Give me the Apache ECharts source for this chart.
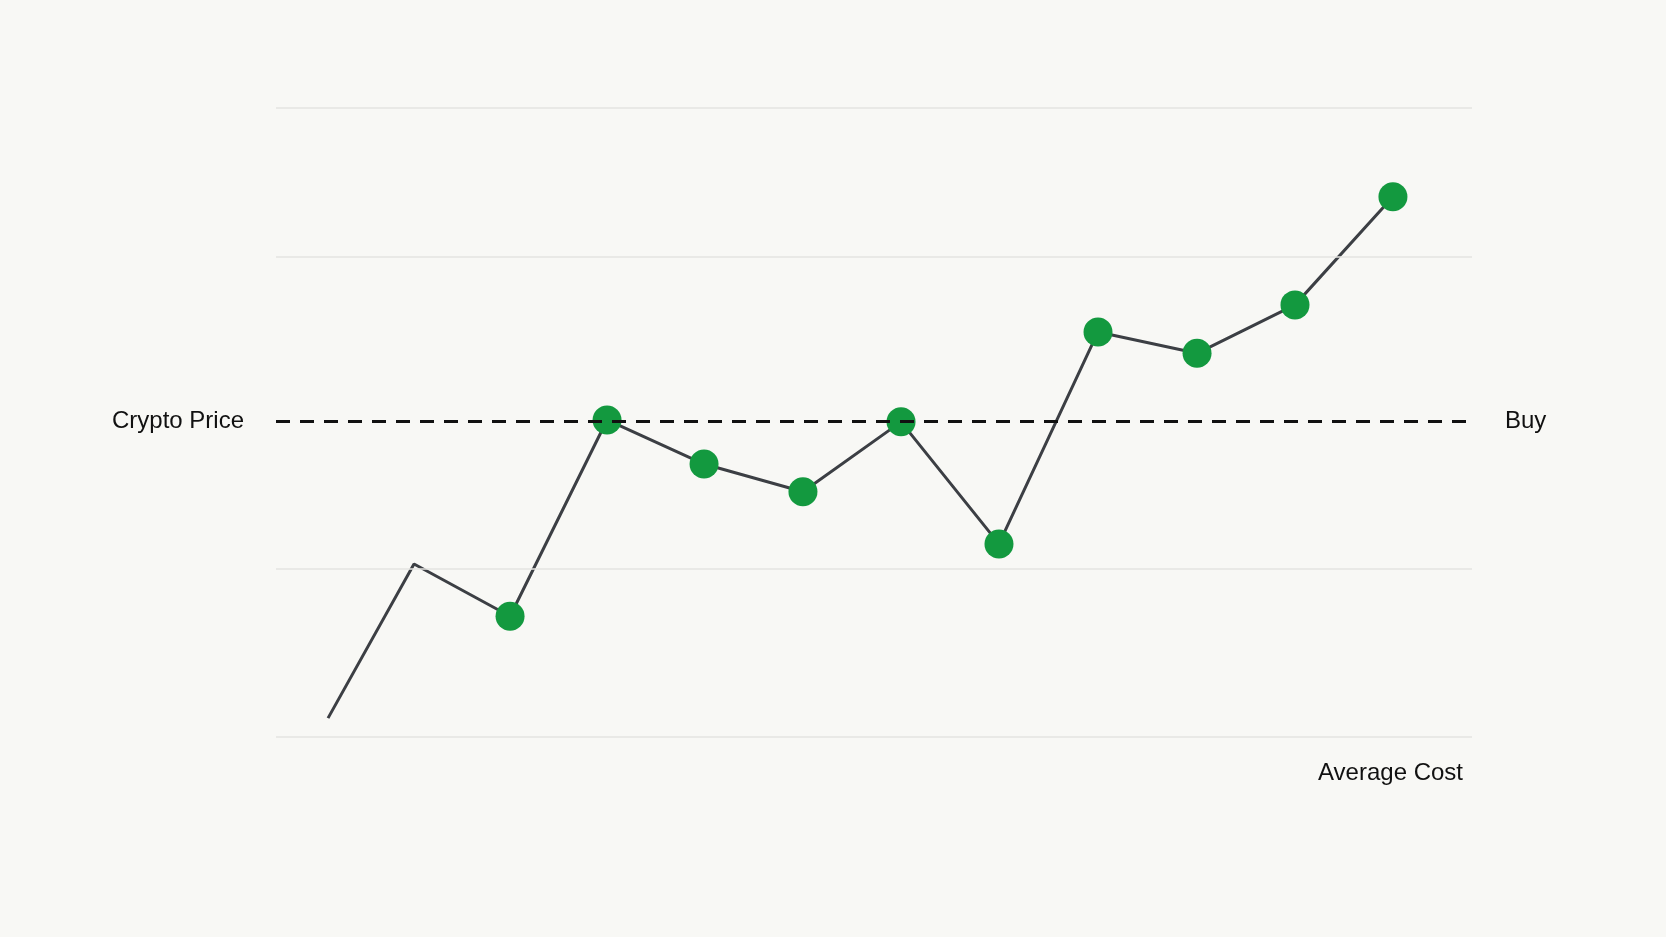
<!DOCTYPE html>
<html>
<head>
<meta charset="utf-8">
<script src="https://cdn.jsdelivr.net/npm/echarts@6/dist/echarts.min.js"></script>
<style>
html,body{margin:0;padding:0;background:#f8f8f5;}
#chart{width:1666px;height:937px;}
</style>
</head>
<body>
<div id="chart"></div>
<script>
// Data
const times = [4.35, 11.54, 19.57, 27.68, 35.79, 44.06, 52.26, 60.45, 68.73, 77.01, 85.20, 93.39];
const prices = [3.0, 27.5, 19.2, 50.4, 43.4, 39.0, 50.1, 30.7, 64.4, 61.0, 68.7, 85.9];
const buyMarked = [false, false, true, true, true, true, true, true, true, true, true, true];
const averageCost = 50.2;
const gridLevels = [0, 26.7, 76.3, 100];
const labels = { left: 'Crypto Price', right: 'Buy', bottom: 'Average Cost' };

const chart = echarts.init(document.getElementById('chart'));
const lineData = times.map((t, i) => ({
  value: [t, prices[i]],
  symbol: buyMarked[i] ? 'circle' : 'none'
}));

chart.setOption({
  backgroundColor: '#f8f8f5',
  animation: false,
  grid: { left: 276, right: 194, top: 108, bottom: 200 },
  xAxis: {
    type: 'value', min: 0, max: 100,
    axisLine: { show: false }, axisTick: { show: false },
    axisLabel: { show: false }, splitLine: { show: false }
  },
  yAxis: {
    type: 'value', min: 0, max: 100,
    axisLine: { show: false }, axisTick: { show: false },
    axisLabel: { show: false }, splitLine: { show: false }
  },
  series: [
    {
      type: 'line',
      z: 1,
      data: [],
      markLine: {
        silent: true, symbol: 'none',
        label: { show: false },
        lineStyle: { color: '#e4e4e1', width: 1.5, type: 'solid' },
        data: gridLevels.map(v => ({ yAxis: v }))
      }
    },
    {
      type: 'line',
      z: 3,
      data: lineData,
      symbolSize: 29,
      showAllSymbol: true,
      lineStyle: { color: '#3c3f44', width: 3 },
      itemStyle: { color: '#13993f' }
    },
    {
      type: 'line',
      z: 5,
      data: [],
      markLine: {
        silent: true, symbol: 'none', z: 5,
        lineStyle: { color: '#111111', width: 3, type: [14, 10] },
        label: { fontFamily: 'Liberation Sans, Arial, sans-serif', fontSize: 24, color: '#111' },
        data: [
          { yAxis: averageCost, label: { position: 'start', distance: 32, formatter: labels.left } },
          { yAxis: averageCost, lineStyle: { color: 'rgba(0,0,0,0)', width: 0 }, label: { position: 'end', distance: 33, formatter: labels.right } }
        ]
      }
    }
  ],
  graphic: [
    {
      type: 'text', right: 203, top: 761,
      style: { text: labels.bottom, font: '24px "Liberation Sans", Arial, sans-serif', fill: '#111' }
    }
  ]
});
</script>
</body>
</html>
